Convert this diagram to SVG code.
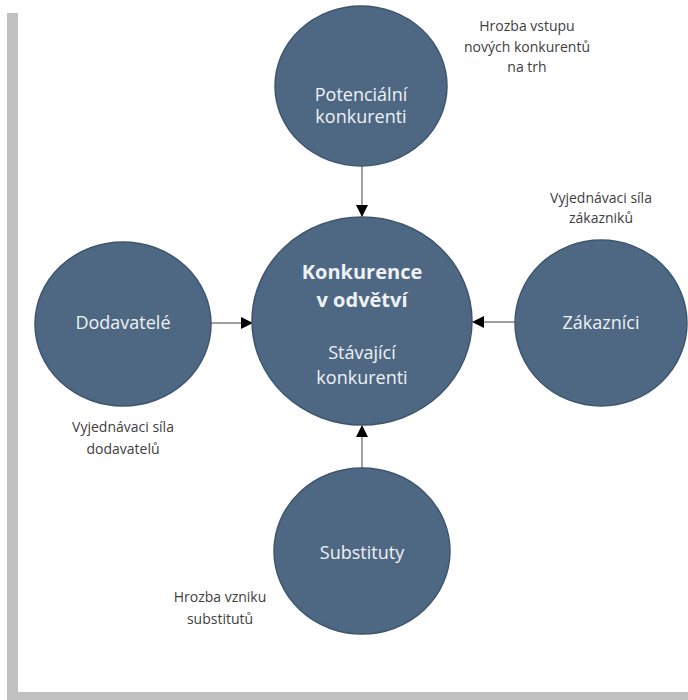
<svg xmlns="http://www.w3.org/2000/svg" width="688" height="700" viewBox="0 0 688 700">
<style>
.node{fill:#4e6883;stroke:#3e5570;stroke-width:1.5}
.nt{font-family:"Open Sans","Liberation Sans",sans-serif;font-size:18px;fill:#eef2f6;text-anchor:middle}
.nb{font-weight:bold;font-size:20px}
.lb{font-family:"Open Sans","Liberation Sans",sans-serif;font-size:14px;fill:#404040;text-anchor:middle}
.cn{stroke:#808080;stroke-width:1.5;fill:none;marker-end:url(#ah)}
</style>
<defs>
<marker id="ah" markerWidth="12" markerHeight="12" refX="11" refY="6" orient="auto" markerUnits="userSpaceOnUse">
<path d="M0,0 L12,6 L0,12 Z" fill="#000"/>
</marker>
</defs>
<rect x="7" y="13" width="681" height="687" fill="#c0c0c0"/>
<rect x="18" y="0" width="670" height="692" fill="#ffffff"/>
<g id="connectors">
<line class="cn" x1="362" y1="165" x2="362" y2="216"/>
<line class="cn" x1="211" y1="323" x2="252" y2="323"/>
<line class="cn" x1="515" y1="322" x2="473" y2="322"/>
<line class="cn" x1="362" y1="468" x2="362" y2="426"/>
</g>
<g id="potencialni">
<ellipse class="node" cx="361" cy="86" rx="86" ry="80"/>
<text class="nt" x="361" y="101">Potenciální</text>
<text class="nt" x="361" y="123">konkurenti</text>
</g>
<g id="konkurence">
<ellipse class="node" cx="362" cy="321" rx="110" ry="104"/>
<text class="nt nb" x="362" y="279">Konkurence</text>
<text class="nt nb" x="362" y="307">v odvětví</text>
<text class="nt" x="362" y="359">Stávající</text>
<text class="nt" x="362" y="384">konkurenti</text>
</g>
<g id="dodavatele">
<ellipse class="node" cx="123" cy="324" rx="88" ry="82"/>
<text class="nt" x="123" y="329">Dodavatelé</text>
</g>
<g id="zakaznici">
<ellipse class="node" cx="601" cy="323" rx="86" ry="83"/>
<text class="nt" x="601" y="329">Zákazníci</text>
</g>
<g id="substituty">
<ellipse class="node" cx="362" cy="551" rx="88" ry="83"/>
<text class="nt" x="362" y="559">Substituty</text>
</g>
<g id="labels">
<text class="lb" x="527" y="31">Hrozba vstupu</text>
<text class="lb" x="527" y="52">nových konkurentů</text>
<text class="lb" x="527" y="72">na trh</text>
<text class="lb" x="601" y="203">Vyjednávaci síla</text>
<text class="lb" x="601" y="223">zákazniků</text>
<text class="lb" x="123" y="432">Vyjednávaci síla</text>
<text class="lb" x="123" y="454">dodavatelů</text>
<text class="lb" x="220" y="602">Hrozba vzniku</text>
<text class="lb" x="220" y="624">substitutů</text>
</g>
</svg>
